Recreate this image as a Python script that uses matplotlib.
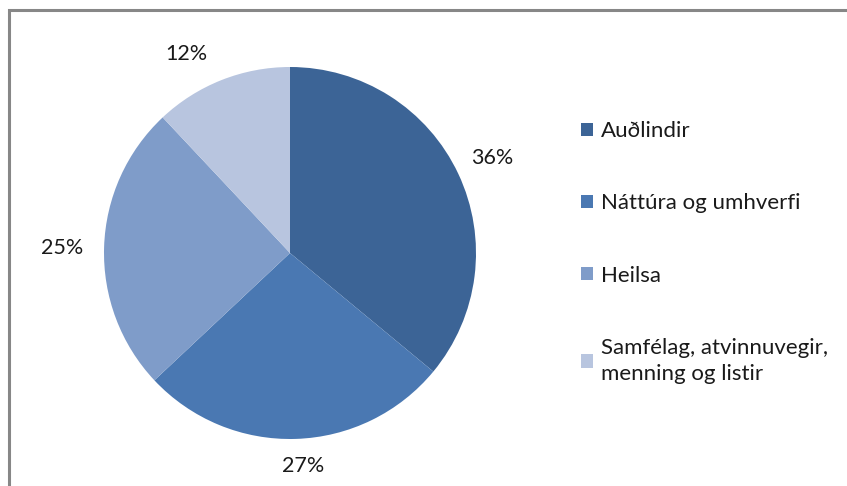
import matplotlib
matplotlib.use("Agg")
import matplotlib.pyplot as plt
from matplotlib.lines import Line2D
from matplotlib.patches import Patch

categories = ["Auðlindir", "Náttúra og umhverfi", "Heilsa", "Samfélag, atvinnuvegir,\nmenning og listir"]
shares = [36, 27, 25, 12]
colors = ["#3c6496", "#4a78b2", "#7f9cc9", "#b8c5df"]

# where the percent labels sit, in pie-radius units from the centre
label_xy = [(1.086, 0.511), (0.07, -1.145), (-1.226, 0.027), (-0.559, 1.07)]

plt.rcParams["font.family"] = ["Lato", "DejaVu Sans"]

W, H = 847, 486
fig = plt.figure(figsize=(W / 100, H / 100), dpi=100)

# grey chart frame (only the left and top edges are in the picture)
fx, fy = 8.5 / W, 1 - 10.5 / H
fig.add_artist(Line2D([fx, fx, 1.1], [-0.1, fy, fy], transform=fig.transFigure,
                      color="#878787", linewidth=2.2, solid_joinstyle="miter"))

cx, cy, r = 290, 253, 186
ax = fig.add_axes([(cx - r) / W, (H - cy - r) / H, 2 * r / W, 2 * r / H])
wedges, _, autotexts = ax.pie(
    shares, colors=colors, startangle=90, counterclock=False,
    autopct=lambda p: f"{p:.0f}%", pctdistance=1.2,
    wedgeprops=dict(linewidth=0), textprops=dict(fontsize=15.5, color="#1a1a1a"),
)
for t, xy in zip(autotexts, label_xy):
    t.set_position(xy)
ax.set_xlim(-1, 1)
ax.set_ylim(-1, 1)
ax.set_aspect("equal")

handles = [Patch(facecolor=c, edgecolor="none") for c in colors]
leg = fig.legend(handles, categories, loc="upper left", bbox_to_anchor=(570 / W, 1 - 110 / H),
                 frameon=False, fontsize=16, handlelength=0.55, handleheight=0.55,
                 handletextpad=0.35, labelspacing=2.35, borderpad=0)
for t in leg.get_texts():
    t.set_color("#1a1a1a")
    t.set_linespacing(1.4)

fig.savefig("out.png", dpi=100)
